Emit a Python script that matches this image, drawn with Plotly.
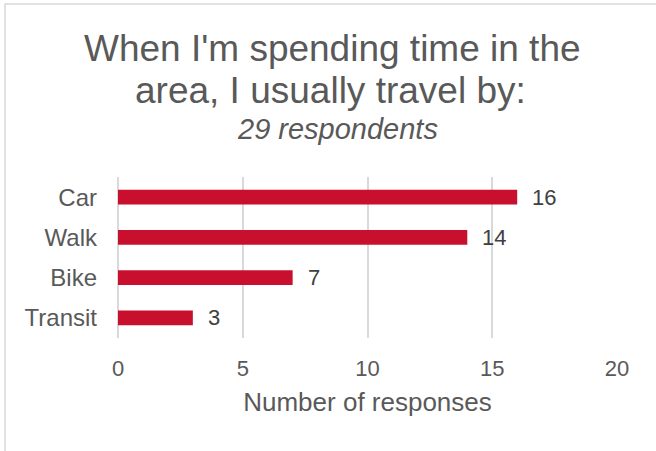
import plotly.graph_objects as go

# travel mode survey
modes = ['Car', 'Walk', 'Bike', 'Transit']
responses = [16, 14, 7, 3]
x_ticks = [0, 5, 10, 15, 20]

title_lines = ["When I'm spending time in the", "area, I usually travel by:"]
subtitle = '29 respondents'

bar_color = '#C8102E'
text_color = '#595959'
font_family = 'Liberation Sans, Arial'

W, H = 656, 451
ml, mr, mt, mb = 118, 39, 177, 113
pw, ph = W - ml - mr, H - mt - mb


def px_x(px):
    return (px - ml) / pw


def px_y(py):
    return (H - mb - py) / ph


fig = go.Figure(data=[go.Bar(y=modes,
                             x=responses,
                             orientation='h',
                             marker=dict(color=bar_color, line=dict(width=0)),
                             width=0.37)])

# value labels next to the bars
for m, v in zip(modes, responses):
    fig.add_annotation(x=v, y=m, xref='x', yref='y', text=str(v), showarrow=False,
                       xanchor='left', xshift=13, font=dict(size=22, color='#404040'))

# title + subtitle as separate lines (tighter spacing than plotly's <br>)
fig.add_annotation(x=px_x(332), y=px_y(48), xref='paper', yref='paper', text=title_lines[0],
                   showarrow=False, xanchor='center', yanchor='middle',
                   font=dict(size=37, color=text_color))
fig.add_annotation(x=px_x(330), y=px_y(90), xref='paper', yref='paper', text=title_lines[1],
                   showarrow=False, xanchor='center', yanchor='middle',
                   font=dict(size=37, color=text_color))
fig.add_annotation(x=px_x(337), y=px_y(129), xref='paper', yref='paper', text='<i>' + subtitle + '</i>',
                   showarrow=False, xanchor='center', yanchor='middle',
                   font=dict(size=29, color=text_color))

# light frame around the chart area
fig.add_shape(type='rect', xref='paper', yref='paper',
              x0=px_x(5), x1=px_x(W + 20), y0=px_y(H + 20), y1=px_y(4),
              line=dict(color='#d9d9d9', width=1.5), layer='below')

fig.update_layout(
    xaxis=dict(range=[0, 20], tickvals=x_ticks, showgrid=True, gridcolor='#d9d9d9', gridwidth=1.5,
               zeroline=True, zerolinecolor='#d9d9d9', zerolinewidth=1.5, showline=False,
               tickfont=dict(size=22, color=text_color), ticks='', ticklabelstandoff=15,
               title=dict(text='Number of responses', font=dict(size=26, color=text_color), standoff=12),
               fixedrange=True),
    yaxis=dict(autorange='reversed', showgrid=False, showline=False, ticks='',
               tickfont=dict(size=24, color=text_color), ticklabelstandoff=20, fixedrange=True),
    font=dict(family=font_family),
    showlegend=False,
    autosize=False,
    width=W,
    height=H,
    margin=dict(l=ml, r=mr, t=mt, b=mb, autoexpand=False),
    plot_bgcolor='white',
    paper_bgcolor='white',
)

fig.write_html('out.html', config={'displayModeBar': False},
               post_script="document.body.style.margin='0';")
